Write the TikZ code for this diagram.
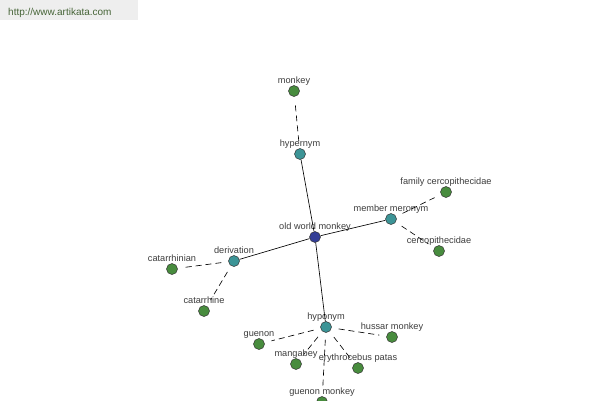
\documentclass[tikz,border=0pt]{standalone}
\usepackage{fontspec}
\setmainfont{Liberation Sans}
\definecolor{hdrbg}{RGB}{238,238,238}
\definecolor{hdrtx}{RGB}{70,100,55}
\definecolor{gnode}{RGB}{72,140,62}
\definecolor{tnode}{RGB}{60,148,150}
\definecolor{bnode}{RGB}{52,62,150}
\definecolor{lbltx}{RGB}{60,60,60}
\tikzset{
  base/.style={circle, draw=black!80, line width=0.5pt, minimum size=11bp, inner sep=0pt},
  gn/.style={base, fill=gnode},
  tn/.style={base, fill=tnode},
  bn/.style={base, fill=bnode},
  lblstyle/.style={anchor=base, label distance=2.2bp, inner sep=0pt, text=lbltx, font=\fontsize{9.2bp}{11bp}\selectfont},
  lab/.style={label={[lblstyle]90:#1}},
  solidedge/.style={draw=black, line width=0.65pt},
  dashedge/.style={draw=black, line width=0.65pt, dash pattern=on 6bp off 4bp, shorten <=7bp, shorten >=7bp},
}
\begin{document}
\begin{tikzpicture}[x=1bp, y=-1bp]
\useasboundingbox (0,0) rectangle (600,400);
\clip (0,0) rectangle (600,400);
\fill[hdrbg] (0,0) rectangle (138,20);
\node[anchor=base west, inner sep=0pt, text=hdrtx, font=\fontsize{10bp}{12bp}\selectfont] (hdr) at (8,15) {http://www.artikata.com};

\node[bn, lab={old world monkey}] (owm) at (315,237) {};
\node[tn, lab={hypernym}] (hyper) at (300,154) {};
\node[gn, lab={monkey}] (monkey) at (294,91) {};
\node[tn, lab={member meronym}] (mero) at (391,219) {};
\node[gn, lab={family cercopithecidae}] (fam) at (446,192) {};
\node[gn, lab={cercopithecidae}] (cerco) at (439,251) {};
\node[tn, lab={derivation}] (deriv) at (234,261) {};
\node[gn, lab={catarrhinian}] (catn) at (172,269) {};
\node[gn, lab={catarrhine}] (cat) at (204,311) {};
\node[tn, lab={hyponym}] (hypo) at (326,327) {};
\node[gn, lab={guenon}] (guenon) at (259,344) {};
\node[gn, lab={mangabey}] (mang) at (296,364) {};
\node[gn, lab={erythrocebus patas}] (ery) at (358,368) {};
\node[gn, lab={hussar monkey}] (hussar) at (392,337) {};
\node[gn, lab={guenon monkey}] (gm) at (322,402) {};

\draw[solidedge] (owm) -- (hyper);
\draw[solidedge] (owm) -- (mero);
\draw[solidedge] (owm) -- (deriv);
\draw[solidedge] (owm) -- (hypo);

\draw[dashedge] (hyper) -- (monkey);
\draw[dashedge] (mero) -- (fam);
\draw[dashedge] (mero) -- (cerco);
\draw[dashedge] (deriv) -- (catn);
\draw[dashedge] (deriv) -- (cat);
\draw[dashedge] (hypo) -- (guenon);
\draw[dashedge] (hypo) -- (mang);
\draw[dashedge] (hypo) -- (ery);
\draw[dashedge] (hypo) -- (hussar);
\draw[dashedge] (hypo) -- (gm);
\end{tikzpicture}
\end{document}
